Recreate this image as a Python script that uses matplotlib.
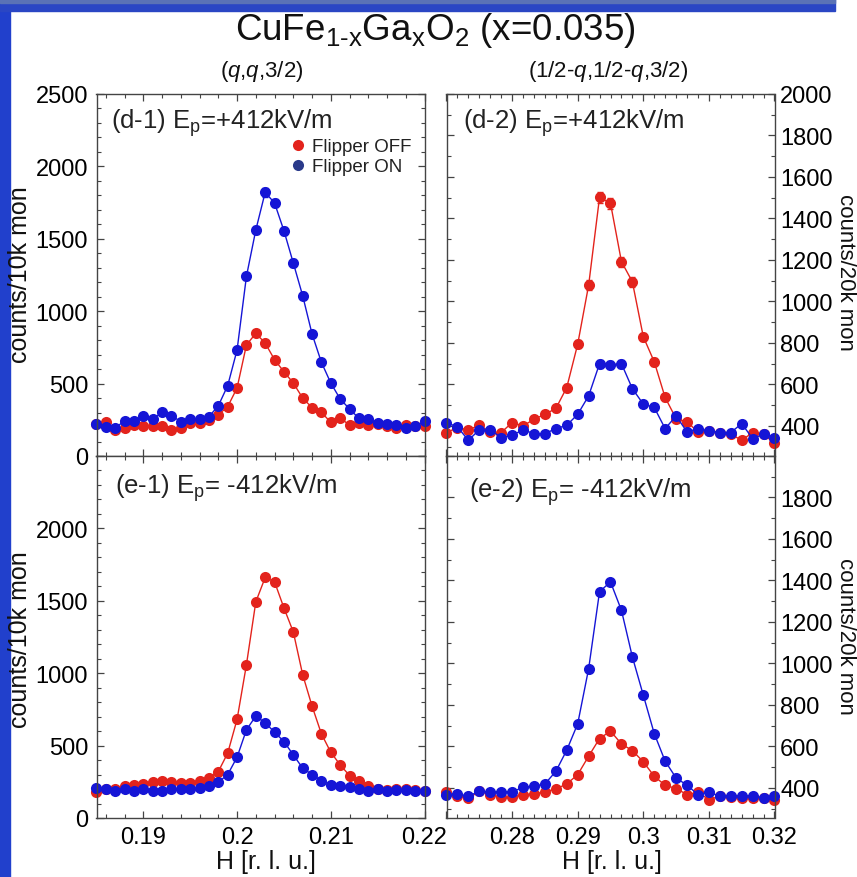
import numpy as np
import matplotlib
matplotlib.use('Agg')
import matplotlib.pyplot as plt
from matplotlib.ticker import MultipleLocator, FixedLocator, FuncFormatter
from matplotlib.lines import Line2D
from matplotlib.patches import Rectangle

plt.rcParams['font.family'] = ['Liberation Sans', 'DejaVu Sans']
plt.rcParams['mathtext.fontset'] = 'custom'
plt.rcParams['mathtext.rm'] = 'Liberation Sans'
plt.rcParams['mathtext.it'] = 'Liberation Sans:italic'
plt.rcParams['mathtext.bf'] = 'Liberation Sans:bold'

# ---------------- data ----------------
H_qq = [0.185, 0.186, 0.187, 0.188, 0.189, 0.190, 0.191, 0.192, 0.193, 0.194,
        0.195, 0.196, 0.197, 0.198, 0.199, 0.200, 0.201, 0.202, 0.203, 0.204,
        0.205, 0.206, 0.207, 0.208, 0.209, 0.210, 0.211, 0.212, 0.213, 0.214,
        0.215, 0.216, 0.217, 0.218, 0.219, 0.220]
H_half = [0.27, 0.27167, 0.27333, 0.275, 0.27667, 0.27833, 0.28, 0.28167, 0.28333, 0.285,
          0.28667, 0.28833, 0.29, 0.29167, 0.29333, 0.295, 0.29667, 0.29833, 0.30, 0.30167,
          0.30333, 0.305, 0.30667, 0.30833, 0.31, 0.31167, 0.31333, 0.315, 0.31667, 0.31833, 0.32]

d1_off = [221, 237, 182, 193, 214, 209, 209, 205, 182, 191, 226, 226, 250, 285, 341, 470, 767, 847,
          780, 665, 582, 504, 400, 334, 302, 232, 262, 214, 226, 214, 221, 205, 191, 214, 205, 205]
d1_on = [221, 198, 193, 244, 239, 274, 256, 302, 279, 237, 256, 256, 272, 347, 486, 732, 1241, 1561,
         1821, 1747, 1556, 1333, 1107, 843, 647, 504, 394, 325, 260, 256, 226, 221, 214, 191, 205, 239]
d2_off = [368, 392, 381, 403, 371, 368, 416, 400, 432, 456, 484, 585, 794, 1079, 1502, 1473, 1192,
          1095, 830, 709, 537, 435, 419, 371, 376, 368, 360, 331, 368, 360, 316]
d2_on = [416, 395, 331, 381, 381, 344, 355, 381, 363, 363, 387, 403, 456, 545, 700, 695, 700,
         580, 505, 489, 387, 448, 371, 387, 376, 368, 368, 411, 339, 360, 344]
e1_off = [182, 201, 201, 219, 228, 235, 251, 258, 247, 242, 242, 254, 277, 321, 448, 681, 1059, 1493,
          1661, 1631, 1451, 1285, 990, 773, 581, 454, 367, 293, 258, 224, 201, 196, 201, 201, 196, 189]
e1_on = [205, 201, 189, 201, 189, 201, 189, 189, 201, 201, 201, 205, 219, 247, 300, 420, 609, 704,
         657, 593, 528, 436, 344, 300, 258, 228, 224, 212, 201, 189, 201, 189, 196, 196, 189, 189]
e2_off = [381, 363, 349, 384, 368, 355, 355, 368, 371, 381, 395, 419, 464, 553, 638, 674, 612,
          580, 526, 456, 413, 397, 368, 379, 344, 360, 355, 352, 352, 349, 344]
e2_on = [368, 371, 360, 384, 381, 381, 381, 403, 408, 419, 480, 582, 709, 975, 1346, 1393, 1256,
         1032, 847, 662, 529, 448, 413, 368, 379, 360, 363, 360, 363, 352, 360]

panel_labels = ['(d-1) E$_{\\mathrm{p}}$=+412kV/m', '(d-2) E$_{\\mathrm{p}}$=+412kV/m',
                '(e-1) E$_{\\mathrm{p}}$= -412kV/m', '(e-2) E$_{\\mathrm{p}}$= -412kV/m']
legend_labels = ['Flipper OFF', 'Flipper ON']
xt_qq = [0.19, 0.20, 0.21, 0.22]
xt_half = [0.27, 0.28, 0.29, 0.30, 0.31, 0.32]
yt_left = [0, 500, 1000, 1500, 2000, 2500]
yt_right = [400, 600, 800, 1000, 1200, 1400, 1600, 1800, 2000]

RED = '#e3231c'
BLUE = '#1515d6'
NAVY = '#2a3a8a'

W, Hp = 857, 878
fig = plt.figure(figsize=(W / 100, Hp / 100), dpi=100)
fig.patch.set_facecolor('white')

# slide decoration
fig.add_artist(Rectangle((0, 0), 10 / W, 1, transform=fig.transFigure, color='#2140cc', zorder=-5))
fig.add_artist(Rectangle((0, 1 - 12 / Hp), 835 / W, 12 / Hp, transform=fig.transFigure,
                         color='#2a46c4', zorder=-5))
fig.add_artist(Rectangle((0, 1 - 4 / Hp), 835 / W, 4 / Hp, transform=fig.transFigure,
                         color='#5a72b6', zorder=-4))


def px_box(x0, x1, y0, y1):
    return [x0 / W, 1 - y1 / Hp, (x1 - x0) / W, (y1 - y0) / Hp]


ax_d1 = fig.add_axes(px_box(96.5, 424.5, 95, 457))
ax_d2 = fig.add_axes(px_box(446.5, 774.5, 95, 457))
ax_e1 = fig.add_axes(px_box(96.5, 424.5, 457, 819))
ax_e2 = fig.add_axes(px_box(446.5, 774.5, 457, 819))


def fmt_x(hidden):
    def f(v, p):
        if any(abs(v - h) < 1e-6 for h in hidden):
            return ''
        return '%g' % round(v, 4)
    return FuncFormatter(f)


def fmt_y(hidden):
    def f(v, p):
        if any(abs(v - h) < 1e-6 for h in hidden):
            return ''
        return '%d' % v
    return FuncFormatter(f)


def style(ax, right):
    for s in ax.spines.values():
        s.set_color('#444444')
        s.set_linewidth(1.0)
    ax.tick_params(which='both', direction='in', top=True, bottom=True, left=True, right=True,
                   color='#444444', labelsize=17)
    ax.tick_params(which='major', length=5, width=0.9)
    ax.tick_params(which='minor', length=2.8, width=0.8)
    if right:
        ax.tick_params(axis='y', labelleft=False, labelright=True, pad=4)
    else:
        ax.tick_params(axis='y', pad=6)
    ax.tick_params(axis='x', pad=6)


def draw(ax, H, off, on, err):
    kw = dict(marker='o', ms=8, lw=1.0, clip_on=False, mec='none')
    if err:
        ax.errorbar(H, off, yerr=np.sqrt(off) * 0.7, color=RED, ecolor=RED, elinewidth=0.9,
                    capsize=2, **kw)
        ax.errorbar(H, on, yerr=np.sqrt(on) * 0.7, color=BLUE, ecolor=BLUE, elinewidth=0.9,
                    capsize=2, **kw)
    else:
        ax.plot(H, off, color=RED, **kw)
        ax.plot(H, on, color=BLUE, **kw)


draw(ax_d1, H_qq, d1_off, d1_on, True)
draw(ax_d2, H_half, d2_off, d2_on, True)
draw(ax_e1, H_qq, e1_off, e1_on, False)
draw(ax_e2, H_half, e2_off, e2_on, False)

for ax in (ax_d1, ax_e1):
    style(ax, False)
    ax.set_xlim(0.185, 0.220)
    ax.set_ylim(0, 2500)
    ax.xaxis.set_major_locator(FixedLocator(xt_qq))
    ax.xaxis.set_minor_locator(MultipleLocator(0.002))
    ax.yaxis.set_major_locator(FixedLocator(yt_left))
    ax.yaxis.set_minor_locator(MultipleLocator(100))
    ax.xaxis.set_major_formatter(fmt_x([]))
ax_d1.yaxis.set_major_formatter(fmt_y([]))
ax_e1.yaxis.set_major_formatter(fmt_y([2500]))

for ax in (ax_d2, ax_e2):
    style(ax, True)
    ax.set_xlim(0.27, 0.32)
    ax.set_ylim(255, 2000)
    ax.xaxis.set_major_locator(FixedLocator(xt_half))
    ax.xaxis.set_minor_locator(MultipleLocator(0.01 / 6))
    ax.yaxis.set_major_locator(FixedLocator(yt_right))
    ax.yaxis.set_minor_locator(MultipleLocator(100))
    ax.xaxis.set_major_formatter(fmt_x([0.27]))
ax_d2.yaxis.set_major_formatter(fmt_y([]))
ax_e2.yaxis.set_major_formatter(fmt_y([2000]))

for ax in (ax_d1, ax_d2):
    ax.tick_params(axis='x', labelbottom=False)

# panel labels
for ax, lab, (x, y) in zip((ax_d1, ax_d2, ax_e1, ax_e2), panel_labels,
                           [(0.045, 0.922), (0.05, 0.922), (0.057, 0.914), (0.069, 0.903)]):
    ax.text(x, y, lab, transform=ax.transAxes, fontsize=18.5, ha='left', va='center', color='#222222')

# legend
handles = [Line2D([], [], marker='o', ls='none', color=RED, mec='none', ms=8, label=legend_labels[0]),
           Line2D([], [], marker='o', ls='none', color=NAVY, mec='none', ms=8, label=legend_labels[1])]
leg = ax_d1.legend(handles=handles, loc='upper left', bbox_to_anchor=(0.585, 0.878), frameon=False,
                   fontsize=13.5, handletextpad=0.25, labelspacing=0.15, borderaxespad=0,
                   handlelength=1.0, borderpad=0)
for t in leg.get_texts():
    t.set_color('#222222')

# figure texts
fig.text(435 / W, 1 - 30 / Hp, 'CuFe$_{\\mathrm{1\u2010x}}$Ga$_{\\mathrm{x}}$O$_{\\mathrm{2}}$ (x=0.035)',
         ha='center', va='center', fontsize=26.5, color='#111111')
fig.text(262 / W, 1 - 72 / Hp, '($q$,$q$,3/2)', ha='center', va='center', fontsize=16, color='#111111')
fig.text(608 / W, 1 - 72 / Hp, '(1/2-$q$,1/2-$q$,3/2)', ha='center', va='center', fontsize=16,
         color='#111111')
for yc in (275, 640):
    fig.text(20 / W, 1 - yc / Hp, 'counts/10k mon', rotation=90, ha='center', va='center',
             fontsize=18, color='#111111')
for yc in (272, 636):
    fig.text(845 / W, 1 - yc / Hp, 'counts/20k mon', rotation=270, ha='center', va='center',
             fontsize=16, color='#111111')
for xc in (266, 612):
    fig.text(xc / W, 1 - 862 / Hp, 'H [r. l. u.]', ha='center', va='center', fontsize=18,
             color='#111111')

fig.savefig('out.png', dpi=100)
